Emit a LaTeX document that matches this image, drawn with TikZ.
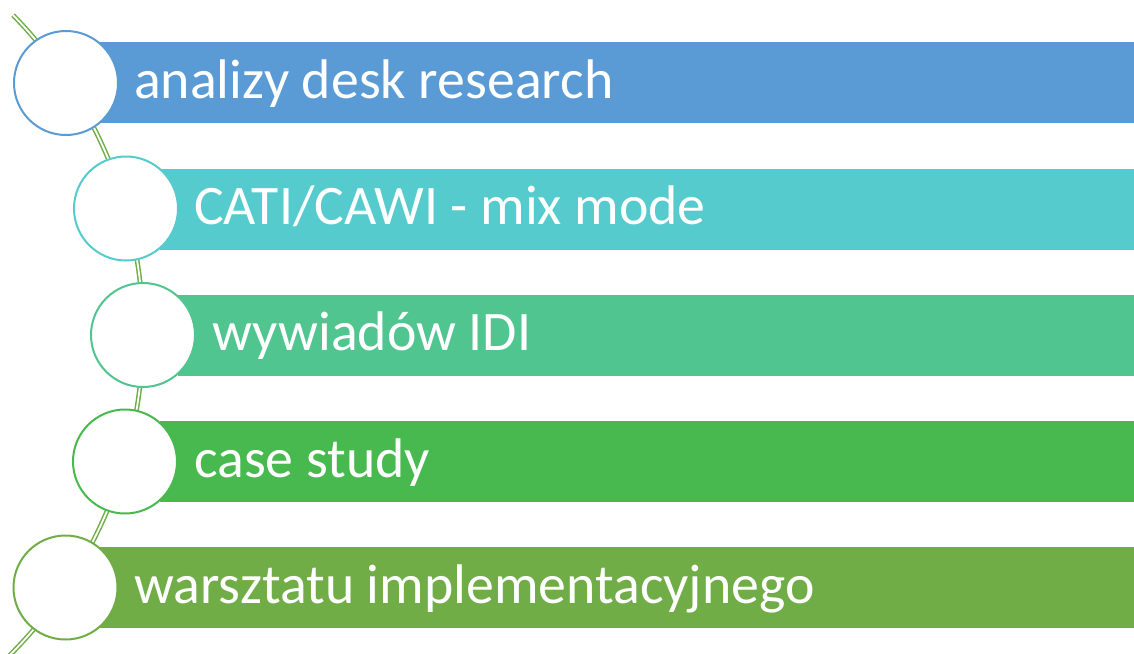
\documentclass[tikz,border=0pt]{standalone}
\usepackage{fontspec}
\setmainfont{Carlito}
\definecolor{cA}{HTML}{5B9BD5}
\definecolor{cB}{HTML}{55CBCD}
\definecolor{cC}{HTML}{50C590}
\definecolor{cD}{HTML}{48B94F}
\definecolor{cE}{HTML}{70AD47}
\begin{document}
\begin{tikzpicture}[x=1pt,y=-1pt,
  barbox/.style={rectangle, anchor=west, inner sep=0pt, minimum height=81pt, fill=#1},
  dot/.style={circle, inner sep=0pt, minimum size=104pt, draw=#1, line width=2pt, fill=white},
  label/.style={anchor=base west, inner sep=0pt, text=white, font=\fontsize{55.8}{66}\selectfont},
  curve/.style={draw=cE, line width=1.5pt, double=white, double distance=1.8pt}]
\useasboundingbox (0,0) rectangle (1134,653);
\clip (0,0) rectangle (1134,653);
\coordinate (arcC) at (-312,333.5);
\draw[curve] (arcC) ++(-44.4:455) arc[start angle=-44.4, end angle=45, radius=455];
% bars
\node[barbox=cA, minimum width=1034pt] (b1) at (100,82.75) {};
\node[barbox=cB, minimum width=974pt] (b2) at (160,209) {};
\node[barbox=cC, minimum width=956pt] (b3) at (178,335) {};
\node[barbox=cD, minimum width=974pt] (b4) at (160,461.5) {};
\node[barbox=cE, minimum width=1034pt] (b5) at (100,587.5) {};
% circles
\node[dot=cA] (d1) at (66,83) {};
\node[dot=cB] (d2) at (126,208.5) {};
\node[dot=cC] (d3) at (143,335) {};
\node[dot=cD] (d4) at (125,461.5) {};
\node[dot=cE] (d5) at (65.5,587.5) {};
% labels
\node[label] (t1) at (134,98.25) {analizy desk research};
\node[label] (t2) at (194,224.5) {CATI/CAWI - mix mode};
\node[label] (t3) at (212.5,350.5) {wywiadów IDI};
\node[label] (t4) at (194,477) {case study};
\node[label] (t5) at (134,603) {warsztatu implementacyjnego};
\end{tikzpicture}
\end{document}
